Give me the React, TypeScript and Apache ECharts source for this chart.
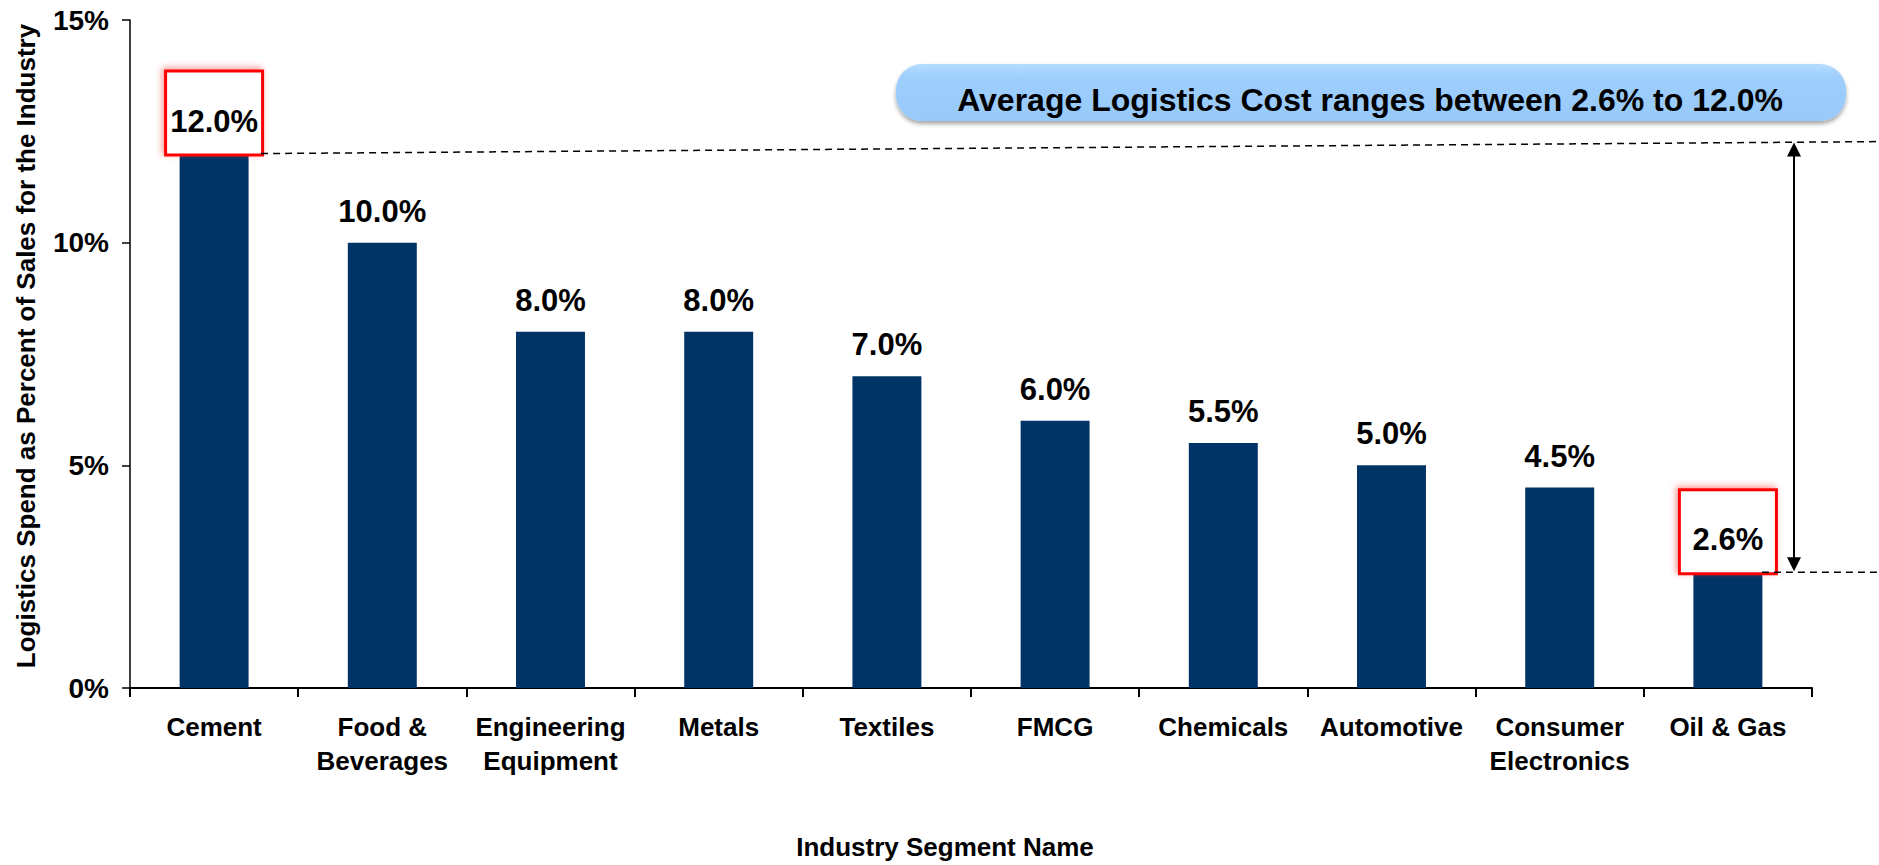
import React, { useEffect, useRef } from "react";
import * as echarts from "echarts";

const categories = [
  "Cement",
  "Food &\nBeverages",
  "Engineering\nEquipment",
  "Metals",
  "Textiles",
  "FMCG",
  "Chemicals",
  "Automotive",
  "Consumer\nElectronics",
  "Oil & Gas",
];
const values = [12.0, 10.0, 8.0, 8.0, 7.0, 6.0, 5.5, 5.0, 4.5, 2.6];
const highlighted = [0, 9];
const yMin = 0;
const yMax = 15;
const yInterval = 5;
const yAxisTitle = "Logistics Spend as Percent of Sales for the Industry";
const xAxisTitle = "Industry Segment Name";
const bannerText = "Average Logistics Cost ranges between 2.6% to 12.0%";

const FONT = "'Liberation Sans', Arial, Helvetica, sans-serif";
const BAR = "#003366";

export default function App() {
  const ref = useRef<HTMLDivElement>(null);
  useEffect(() => {
    if (!ref.current) return;
    const chart = echarts.init(ref.current, null, { renderer: "svg" });
    const data = values.map((v, i) =>
      highlighted.includes(i)
        ? {
            value: v,
            label: {
              distance: 0,
              width: 90,
              lineHeight: 31,
              padding: [33, 2, 17, 2],
              backgroundColor: "#ffffff",
              borderColor: "#ff0000",
              borderWidth: 3,
              shadowColor: "rgba(255,60,60,0.55)",
              shadowBlur: 6,
              shadowOffsetX: -2,
              shadowOffsetY: -2,
            },
          }
        : v
    );
    const option: any = {
      animation: false,
      backgroundColor: "#ffffff",
      grid: { left: 130, right: 67, top: 20, bottom: 175, containLabel: false },
      xAxis: {
        type: "category",
        data: categories,
        name: xAxisTitle,
        nameLocation: "middle",
        nameGap: 146,
        nameTextStyle: {
          fontFamily: FONT,
          fontWeight: "bold",
          fontSize: 26,
          color: "#000",
          padding: [0, 52, 0, 0],
        },
        axisLine: { lineStyle: { color: "#000", width: 2 } },
        axisTick: { show: true, interval: 0, length: 9, alignWithLabel: false, lineStyle: { color: "#000", width: 2 } },
        axisLabel: {
          interval: 0,
          margin: 22,
          fontFamily: FONT,
          fontWeight: "bold",
          fontSize: 26,
          lineHeight: 34,
          color: "#000",
        },
      },
      yAxis: {
        type: "value",
        min: yMin,
        max: yMax,
        interval: yInterval,
        name: yAxisTitle,
        nameLocation: "middle",
        nameRotate: 90,
        nameGap: 91,
        nameTextStyle: {
          fontFamily: FONT,
          fontWeight: "bold",
          fontSize: 26,
          color: "#000",
          padding: [0, 0, 0, 16],
        },
        splitLine: { show: false },
        axisLine: { show: true, lineStyle: { color: "#000", width: 1.5 } },
        axisTick: { show: true, length: 8, lineStyle: { color: "#000", width: 1.5 } },
        axisLabel: {
          margin: 21,
          formatter: "{value}%",
          fontFamily: FONT,
          fontWeight: "bold",
          fontSize: 28,
          color: "#000",
        },
      },
      series: [
        {
          type: "bar",
          data,
          barCategoryGap: "59%",
          itemStyle: { color: BAR },
          label: {
            show: true,
            position: "top",
            distance: 16,
            formatter: (p: any) => Number(p.value).toFixed(1) + "%",
            fontFamily: FONT,
            fontWeight: "bold",
            fontSize: 31,
            color: "#000",
          },
        },
      ],
    };
    chart.setOption(option);

    const toPx = (i: number, v: number) =>
      chart.convertToPixel({ xAxisIndex: 0, yAxisIndex: 0 }, [i, v]) as number[];
    const [xHi, yHi] = toPx(0, values[0]);
    const [xLo, yLo] = toPx(values.length - 1, values[values.length - 1]);
    const W = chart.getWidth();
    const arrowX = 1794;
    const tipTop = yHi - 11;
    const tipBot = yLo - 1;
    const dash = { stroke: "#000", lineWidth: 1.5, lineDash: [7, 5] };

    chart.setOption({
      graphic: [
        {
          type: "line",
          shape: { x1: xHi + 47, y1: yHi, x2: W, y2: yHi - 12 },
          style: dash,
          z: 10,
        },
        {
          type: "line",
          shape: { x1: xLo + 34, y1: yLo, x2: W, y2: yLo },
          style: dash,
          z: 10,
        },
        {
          type: "line",
          shape: { x1: arrowX, y1: tipTop + 12, x2: arrowX, y2: tipBot - 12 },
          style: { stroke: "#000", lineWidth: 2 },
          z: 11,
        },
        {
          type: "polygon",
          shape: { points: [[arrowX, tipTop], [arrowX - 7, tipTop + 14], [arrowX + 7, tipTop + 14]] },
          style: { fill: "#000" },
          z: 11,
        },
        {
          type: "polygon",
          shape: { points: [[arrowX, tipBot], [arrowX - 7, tipBot - 14], [arrowX + 7, tipBot - 14]] },
          style: { fill: "#000" },
          z: 11,
        },
        {
          type: "rect",
          shape: { x: 896, y: 64, width: 950, height: 57, r: 26 },
          style: {
            fill: {
              type: "linear",
              x: 0,
              y: 0,
              x2: 0,
              y2: 1,
              colorStops: [
                { offset: 0, color: "#b4dcff" },
                { offset: 0.25, color: "#9dcefc" },
                { offset: 1, color: "#97c9fa" },
              ],
            },
            shadowColor: "rgba(0,0,0,0.35)",
            shadowBlur: 4,
            shadowOffsetY: 3,
          },
          z: 12,
        },
        {
          type: "text",
          x: 1370,
          y: 100,
          style: {
            text: bannerText,
            font: `bold 32px ${FONT}`,
            fill: "#000",
            align: "center",
            verticalAlign: "middle",
          },
          z: 13,
        },
      ],
    });

    return () => chart.dispose();
  }, []);

  return (
    <div
      ref={ref}
      style={{ position: "absolute", left: 0, top: 0, width: 1879, height: 865 }}
    />
  );
}
